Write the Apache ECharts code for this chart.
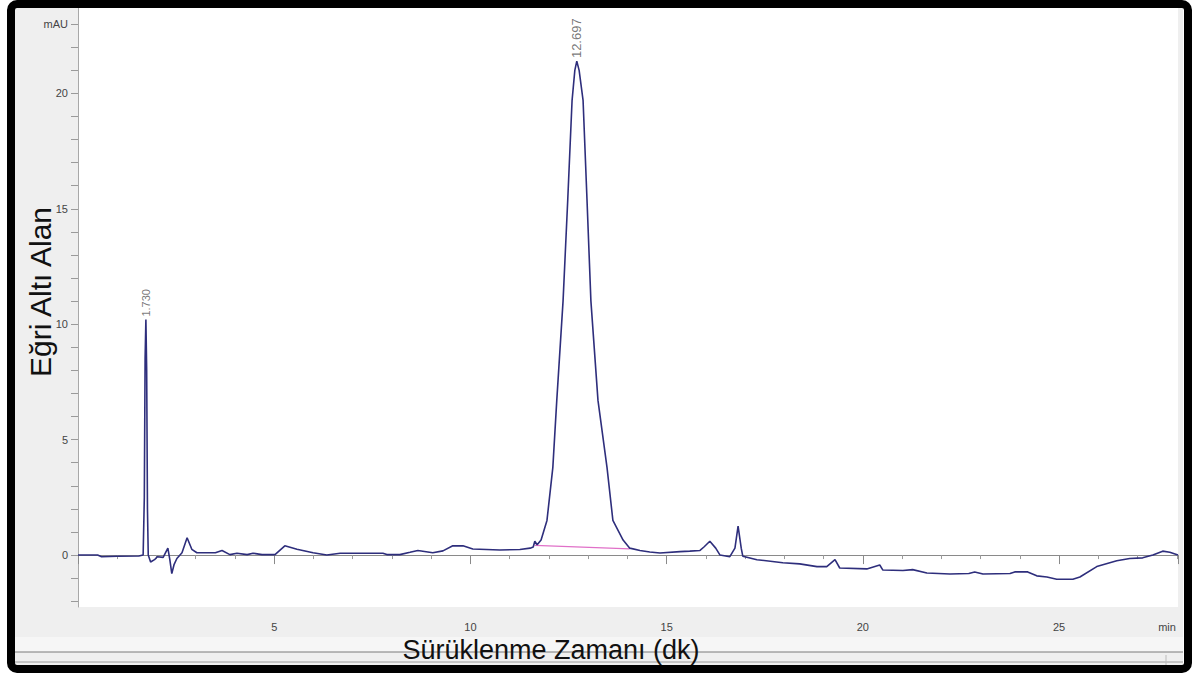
<!DOCTYPE html>
<html>
<head>
<meta charset="utf-8">
<title>Kromatogram</title>
<script src="https://cdn.jsdelivr.net/npm/echarts@6/dist/echarts.min.js"></script>
<style>
  html, body { margin: 0; padding: 0; background: #fff; }
  #chromChart { width: 1198px; height: 675px; }
</style>
</head>
<body>
<div id="chromChart"></div>
<script>
// retention time (min) and signal (mAU)
const retentionTime = [
  0, 0.5, 0.6, 1.0, 1.55, 1.66, 1.69, 1.71, 1.73, 1.75, 1.77, 1.79, 1.85, 1.95,
  2.02, 2.17, 2.29, 2.34, 2.39, 2.45, 2.52, 2.65, 2.78, 2.9, 3.03, 3.5, 3.67,
  3.87, 4.05, 4.31, 4.46, 4.69, 5.02, 5.27, 5.58, 5.99, 6.34, 6.68, 7.77, 7.87,
  8.2, 8.46, 8.66, 9.04, 9.3, 9.55, 9.81, 10.06, 10.75, 11.26, 11.52, 11.6,
  11.64, 11.7, 11.8, 11.95, 12.1, 12.2, 12.36, 12.48, 12.59, 12.66, 12.71, 12.77,
  12.87, 12.97, 13.07, 13.25, 13.48, 13.63, 13.89, 14.06, 14.32, 14.57, 14.83,
  15.34, 15.59, 15.85, 15.95, 16.1, 16.25, 16.36, 16.61, 16.74, 16.82, 16.9,
  16.94, 17.3, 17.96, 18.39, 18.83, 19.08, 19.29, 19.41, 20.1, 20.43, 20.51,
  21.02, 21.27, 21.63, 22.22, 22.7, 22.85, 23.06, 23.75, 23.87, 24.2, 24.43,
  24.69, 24.94, 25.35, 25.53, 25.96, 26.47, 26.8, 27.13, 27.39, 27.64, 27.82, 28.03
];
const signal = [
  0, 0, -0.07, -0.05, -0.04, 0, 2.5, 8.5, 10.2, 8.0, 2.0, 0, -0.3, -0.2,
  -0.07, -0.1, 0.3, -0.2, -0.8, -0.4, -0.15, 0.1, 0.75, 0.25, 0.1, 0.1, 0.2,
  0.02, 0.08, 0.02, 0.08, 0.02, 0.02, 0.4, 0.25, 0.1, 0, 0.08, 0.08, 0.02,
  0.02, 0.12, 0.2, 0.1, 0.18, 0.4, 0.4, 0.26, 0.22, 0.24, 0.3, 0.35,
  0.6, 0.45, 0.65, 1.5, 3.8, 6.7, 11.0, 15.4, 19.7, 21.0, 21.4, 21.0,
  19.7, 15.4, 11.0, 6.7, 3.8, 1.5, 0.65, 0.3, 0.2, 0.13, 0.09,
  0.15, 0.17, 0.2, 0.35, 0.6, 0.3, 0, -0.07, 0.3, 1.25, 0.3,
  -0.05, -0.2, -0.33, -0.38, -0.5, -0.5, -0.2, -0.56, -0.6, -0.43, -0.65,
  -0.67, -0.63, -0.78, -0.82, -0.8, -0.73, -0.82, -0.8, -0.73, -0.73, -0.9,
  -0.95, -1.05, -1.05, -0.95, -0.5, -0.25, -0.15, -0.12, 0, 0.17, 0.12, 0
];

// integrated peaks
const peakTimes = [1.73, 12.71];
const peakHeights = [10.2, 21.4];
const peakLabels = ['1.730', '12.697'];

// integration baseline under the main peak
const baselineTimes = [11.64, 14.06];
const baselineValues = [0.42, 0.27];

// axis ticks / labels
const xLabelValues = [5, 10, 15, 20, 25, 27.75];
const yTickValues = [-2, -1, 0, 1, 2, 3, 4, 5, 6, 7, 8, 9, 10, 11, 12, 13, 14, 15, 16, 17, 18, 19, 20, 21, 22, 23];
const yLabelValues = [0, 5, 10, 15, 20, 23];

const myChart = echarts.init(document.getElementById('chromChart'), null, { renderer: 'svg' });

const traceData = retentionTime.map((t, i) => [t, signal[i]]);
const baselineData = baselineTimes.map((t, i) => [t, baselineValues[i]]);
const peakData = peakTimes.map((t, i) => ({
  value: [t, peakHeights[i]],
  label: { formatter: peakLabels[i], fontSize: i === 0 ? 11 : 13 },
}));

myChart.setOption({
  backgroundColor: '#fff',
  animation: false,
  grid: {
    left: 78,
    right: 20,
    top: 8,
    bottom: 68,
    show: true,
    backgroundColor: '#fff',
    borderWidth: 0,
  },
  graphic: [
    // grey panel around plot
    { type: 'rect', z: -10, shape: { x: 15, y: 8, width: 1168, height: 657 }, style: { fill: '#efefef' } },
    { type: 'rect', z: -9, shape: { x: 15, y: 637, width: 1168, height: 15 }, style: { fill: '#f6f6f6' } },
    { type: 'line', shape: { x1: 15, y1: 652, x2: 1183, y2: 652 }, style: { stroke: '#7a7a7a', lineWidth: 1 } },
    { type: 'line', shape: { x1: 15, y1: 662, x2: 1183, y2: 662 }, style: { stroke: '#9a9a9a', lineWidth: 1 } },
    { type: 'line', shape: { x1: 1166, y1: 655, x2: 1166, y2: 665 }, style: { stroke: '#bbb', lineWidth: 1 } },
    // black frame
    {
      type: 'rect', z: 100,
      shape: { x: 11, y: 4, width: 1177, height: 665, r: 6 },
      style: { fill: 'none', stroke: '#000', lineWidth: 8 },
    },
    {
      type: 'text', z: 50,
      x: 551, y: 650,
      style: {
        text: 'Sürüklenme Zamanı (dk)',
        font: '27px "Liberation Sans", Arial, sans-serif',
        fill: '#111',
        align: 'center',
        verticalAlign: 'middle',
      },
    },
    {
      type: 'text', z: 50,
      x: 40, y: 292,
      rotation: Math.PI / 2,
      style: {
        text: 'Eğri Altı Alan',
        font: '30px "Liberation Sans", Arial, sans-serif',
        fill: '#111',
        align: 'center',
        verticalAlign: 'middle',
      },
    },
  ],
  xAxis: {
    type: 'value',
    min: 0,
    max: 28.03,
    interval: 5,
    axisLine: { lineStyle: { color: '#8a8a8a', width: 1 } },
    axisTick: { length: 9, lineStyle: { color: '#8a8a8a' } },
    minorTick: { show: true, splitNumber: 5, length: 4, lineStyle: { color: '#9a9a9a' } },
    splitLine: { show: false },
    axisLabel: {
      customValues: xLabelValues,
      margin: 14,
      fontSize: 11,
      color: '#444',
      fontFamily: 'Liberation Sans',
      formatter: (v) => (v > 26 ? 'min' : String(v)),
    },
  },
  yAxis: {
    type: 'value',
    min: -2.25,
    max: 23.7,
    axisLine: { show: true, lineStyle: { color: '#a8a8a8', width: 1 } },
    axisTick: { show: true, customValues: yTickValues, length: 7, lineStyle: { color: '#9a9a9a' } },
    splitLine: { show: false },
    axisLabel: {
      customValues: yLabelValues,
      margin: 10,
      fontSize: 11,
      color: '#444',
      fontFamily: 'Liberation Sans',
      formatter: (v) => (v === 23 ? 'mAU' : String(v)),
    },
  },
  series: [
    {
      name: 'signal',
      type: 'line',
      data: traceData,
      showSymbol: false,
      lineStyle: { color: '#2e2e7c', width: 1.6 },
      z: 3,
    },
    {
      name: 'baseline',
      type: 'line',
      data: baselineData,
      showSymbol: false,
      lineStyle: { color: '#e070c8', width: 1.2 },
      z: 2,
    },
    {
      name: 'peaks',
      type: 'scatter',
      data: peakData,
      symbolSize: 0,
      label: {
        show: true,
        position: 'top',
        distance: 3,
        rotate: 90,
        align: 'left',
        verticalAlign: 'middle',
        color: '#555',
        fontFamily: 'Liberation Sans',
      },
      z: 4,
    },
  ],
});
</script>
</body>
</html>
